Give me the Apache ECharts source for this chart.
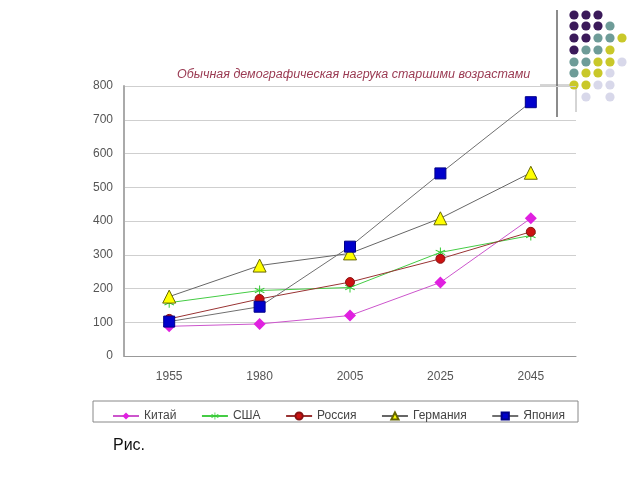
<!DOCTYPE html>
<html><head><meta charset="utf-8">
<script src="https://cdn.jsdelivr.net/npm/echarts@6/dist/echarts.min.js"></script>
<style>html,body{margin:0;padding:0;background:#fff}#c{width:640px;height:480px}</style>
</head><body><div id="c"></div>
<script>
const years = ['1955','1980','2005','2025','2045'];
const china = [88, 95, 120, 218, 408];
const usa = [158, 194, 203, 307, 357];
const russia = [110, 169, 219, 288, 368];
const germany = [176, 268, 304, 408, 543];
const japan = [102, 146, 324, 541, 752];
const seriesNames = ['Китай','США','Россия','Германия','Япония'];

const asterisk = 'path://M4.5,0 L5.5,0 L5.5,4.2 L9.4,2.3 L9.9,3.2 L6,5 L9.9,6.8 L9.4,7.7 L5.5,5.8 L5.5,10 L4.5,10 L4.5,5.8 L0.6,7.7 L0.1,6.8 L4,5 L0.1,3.2 L0.6,2.3 L4.5,4.2 Z';

// decorative dot grid (top right)
const dotCols = [574, 586, 598, 610, 622];
const dotRows = [15, 26, 38, 50, 62, 73, 85, 97];
const P='#3b1a5a', T='#6e9c98', Y='#c9c82a', L='#d8d8ea';
const dotMap = [
  [P,P,P,null,null],
  [P,P,P,T,null],
  [P,P,T,T,Y],
  [P,T,T,Y,null],
  [T,T,Y,Y,L],
  [T,Y,Y,L,null],
  [Y,Y,L,L,null],
  [null,L,null,L,null]
];
const graphics = [];
graphics.push({type:'line', shape:{x1:540,y1:85,x2:576,y2:85}, style:{stroke:'#aaa',lineWidth:1}});
graphics.push({type:'line', shape:{x1:576,y1:85,x2:576,y2:112}, style:{stroke:'#aaa',lineWidth:1}});
dotMap.forEach((row, r) => row.forEach((c, i) => {
  if (c) graphics.push({type:'circle', shape:{cx:dotCols[i], cy:dotRows[r], r:4.6}, style:{fill:c}, silent:true});
}));
graphics.push({type:'line', shape:{x1:557,y1:10,x2:557,y2:117}, style:{stroke:'#666',lineWidth:1.5}});
graphics.push({type:'rect', shape:{x:93,y:401,width:485,height:21}, style:{fill:'none',stroke:'#888',lineWidth:1}});
graphics.push({type:'text', left:113, top:438, style:{text:'Рис.', fontSize:16, fill:'#111', fontFamily:'Liberation Sans'}});

const chart = echarts.init(document.getElementById('c'), null, {renderer:'canvas'});
function mk(name, data, lineColor, sym, symColor, size, border) {
  return {
    name, type:'line', data, symbol:sym, symbolSize:size,
    lineStyle:{color:lineColor, width:1},
    itemStyle:{color:symColor, borderColor:border||symColor, borderWidth:border?1:0},
    emphasis:{disabled:true}, animation:false
  };
}
chart.setOption({
  animation:false,
  textStyle:{fontFamily:'Liberation Sans'},
  title:{text:'Обычная демографическая нагрука старшими возрастами', left:172, top:63,
    textStyle:{fontSize:12.5, fontStyle:'italic', fontWeight:'normal', color:'#9a3a52', fontFamily:'Liberation Sans'}},
  grid:{left:124, right:64, top:86, bottom:124},
  xAxis:{type:'category', data:years, boundaryGap:true,
    axisLine:{lineStyle:{color:'#999'}}, axisTick:{show:false},
    axisLabel:{color:'#555', fontSize:12, margin:15}},
  yAxis:{type:'value', min:0, max:800, interval:100,
    axisLine:{show:true, lineStyle:{color:'#aaa', width:2}}, axisTick:{show:false},
    splitLine:{lineStyle:{color:'#cfcfcf'}},
    axisLabel:{color:'#555', fontSize:12, margin:11}},
  legend:{data:seriesNames, left:107, top:405, itemGap:24.5, itemWidth:26, itemHeight:9,
    textStyle:{color:'#444', fontSize:12}},
  graphic:graphics,
  series:[
    mk('Китай', china, '#cc55cc', 'diamond', '#e020e0', 12),
    mk('США', usa, '#44cc44', asterisk, '#33cc33', 10),
    mk('Россия', russia, '#993333', 'circle', '#cc1111', 9, '#881111'),
    mk('Германия', germany, '#666666', 'triangle', '#ffff00', 13, '#666600'),
    mk('Япония', japan, '#707070', 'rect', '#0000cc', 11, '#000088')
  ]
});
</script></body></html>
